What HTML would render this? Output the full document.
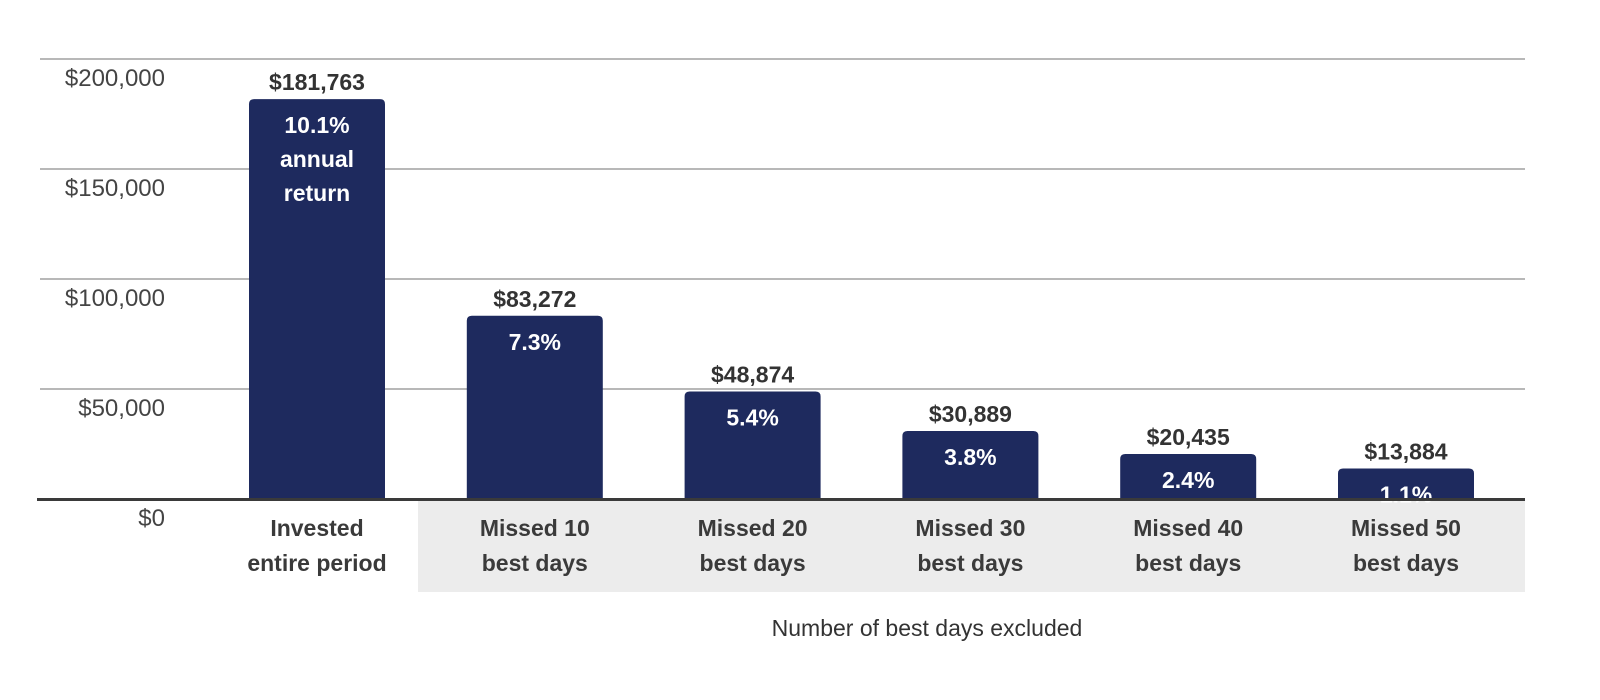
<!DOCTYPE html>
<html><head><meta charset="utf-8"><style>
html,body{margin:0;padding:0;background:#fff;}
svg{display:block;font-family:"Liberation Sans",sans-serif;}
</style></head><body>
<svg id="chart" width="1600" height="700" viewBox="0 0 1600 700" xmlns="http://www.w3.org/2000/svg">
<rect x="418" y="501" width="1107" height="91" fill="#ececec"/>
<g id="grid"></g>
<g id="bars"></g>
<line x1="37" y1="499.5" x2="1525" y2="499.5" stroke="#3a3a3a" stroke-width="3"/>
<text x="927" y="636" font-size="23" fill="#333" text-anchor="middle">Number of best days excluded</text>
</svg>
<script>
const categories1 = ["Invested","Missed 10","Missed 20","Missed 30","Missed 40","Missed 50"];
const categories2 = ["entire period","best days","best days","best days","best days","best days"];
const values = [181763, 83272, 48874, 30889, 20435, 13884];
const valueLabels = ["$181,763","$83,272","$48,874","$30,889","$20,435","$13,884"];
const returnLabels = ["10.1%","7.3%","5.4%","3.8%","2.4%","1.1%"];
const tickValues = [0, 50000, 100000, 150000, 200000];
const tickLabels = ["$0","$50,000","$100,000","$150,000","$200,000"];

const NS = "http://www.w3.org/2000/svg";
const y0 = 499, pxPer = 440/200000;
function yScale(v){ return y0 - v*pxPer; }
const x0 = 249, step = 217.8, bw = 136;
function xScale(i){ return x0 + i*step; }
function mk(tag, attrs, parent){ const e=document.createElementNS(NS,tag); for(const k in attrs) e.setAttribute(k,attrs[k]); parent.appendChild(e); return e; }

const grid = document.getElementById('grid');
tickValues.forEach((t,i)=>{
  const y = yScale(t);
  if (t>0){
    const l = mk('line',{x1:40,x2:1525,y1:y,y2:y,stroke:'#b8b8b8','stroke-width':2},grid);
    
    
  }
  const tx = mk('text',{x:165,y:y+27,'font-size':24,fill:'#444','text-anchor':'end'},grid);
  tx.textContent = tickLabels[i];
  
  
});

const bars = document.getElementById('bars');
values.forEach((v,i)=>{
  const x = xScale(i), top = yScale(v), h = y0 - top, r = 5;
  const p = mk('path',{d:`M${x},${y0} V${top+r} Q${x},${top} ${x+r},${top} H${x+bw-r} Q${x+bw},${top} ${x+bw},${top+r} V${y0} Z`,fill:'#1e2a5e'},bars);
  
  
  const cx = x + bw/2;
  const vl = mk('text',{x:cx,y:top-9,'font-size':23,'font-weight':'bold',fill:'#333','text-anchor':'middle'},bars);
  vl.textContent = valueLabels[i];
  
  
  const rl = mk('text',{x:cx,y:top+34,'font-size':23,'font-weight':'bold',fill:'#fff','text-anchor':'middle'},bars);
  rl.textContent = returnLabels[i];
  
  
  if (i===0){
    ['annual','return'].forEach((w,j)=>{
      const t = mk('text',{x:cx,y:top+68+j*34,'font-size':23,'font-weight':'bold',fill:'#fff','text-anchor':'middle'},bars);
      t.textContent = w;
      
      
    });
  }
  [categories1[i],categories2[i]].forEach((w,j)=>{
    const t = mk('text',{x:cx,y:536+j*35,'font-size':23,'font-weight':'bold',fill:'#3a3a3a','text-anchor':'middle'},bars);
    t.textContent = w;
    
    
  });
});
</script>
</body></html>
